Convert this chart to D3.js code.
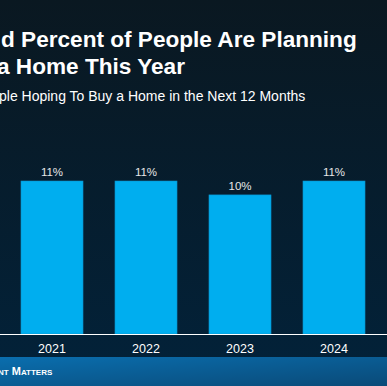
<!DOCTYPE html>
<html>
<head>
<meta charset="utf-8">
<script src="https://cdn.jsdelivr.net/npm/d3@7"></script>
<style>
  html, body { margin: 0; padding: 0; background: #061c2b; overflow: hidden; }
  svg { display: block; font-family: "Liberation Sans", Arial, sans-serif; }
</style>
</head>
<body>
<svg id="chart" width="387" height="386"></svg>
<script>
const years = ["2021", "2022", "2023", "2024"];
const shares = [11, 11, 10, 11];
const valueLabels = ["11%", "11%", "10%", "11%"];
const titleLines = ["d Percent of People Are Planning", "a Home This Year"];
const subtitle = "ple Hoping To Buy a Home in the Next 12 Months";
const footerText = "nt Matters";

document.addEventListener("DOMContentLoaded", () => {
    const svg = d3.select("#chart");
    const W = 387, H = 386;
    const baseY = 334;

    const defs = svg.append("defs");
    const bg = defs.append("linearGradient")
        .attr("id", "bg").attr("x1", 0).attr("y1", 0).attr("x2", 0).attr("y2", 1);
    bg.append("stop").attr("offset", "0%").attr("stop-color", "#0a1821");
    bg.append("stop").attr("offset", "100%").attr("stop-color", "#02223a");

    const foot = defs.append("linearGradient")
        .attr("id", "foot").attr("x1", 0).attr("y1", 0).attr("x2", 1).attr("y2", 1);
    foot.append("stop").attr("offset", "0%").attr("stop-color", "#0a6eae");
    foot.append("stop").attr("offset", "100%").attr("stop-color", "#0a4a78");

    svg.append("rect").attr("width", W).attr("height", H).attr("fill", "url(#bg)");

    // titles (cropped on the left like the source)
    svg.selectAll(".title")
        .data(titleLines)
        .enter()
        .append("text")
        .attr("class", "title")
        .attr("x", (d, i) => i === 0 ? 1 : -3)
        .attr("y", (d, i) => 47 + i * 27)
        .attr("fill", "#ffffff")
        .attr("font-size", 22.6)
        .attr("font-weight", "bold")
        .text(d => d);

    svg.append("text")
        .attr("x", -1)
        .attr("y", 101)
        .attr("fill", "#ffffff")
        .attr("font-size", 14)
        .text(subtitle);

    const x = d3.scaleBand()
        .domain(years)
        .range([5, 381])
        .paddingInner(0.34)
        .paddingOuter(0.17);

    const y = d3.scaleLinear()
        .domain([0, 11])
        .range([baseY, 181]);

    const data = years.map((yr, i) => ({ year: yr, value: shares[i], label: valueLabels[i] }));

    svg.selectAll(".bar")
        .data(data)
        .enter()
        .append("rect")
        .attr("class", "bar")
        .attr("x", d => x(d.year))
        .attr("y", d => y(d.value))
        .attr("width", x.bandwidth())
        .attr("height", d => baseY - y(d.value))
        .attr("fill", "#00aeef")
        .attr("stroke", "#0a8fc8")
        .attr("stroke-width", 0.6);

    svg.selectAll(".val")
        .data(data)
        .enter()
        .append("text")
        .attr("class", "val")
        .attr("x", d => x(d.year) + x.bandwidth() / 2)
        .attr("y", d => y(d.value) - 5)
        .attr("text-anchor", "middle")
        .attr("fill", "#e6e6e6")
        .attr("font-size", 11.5)
        .text(d => d.label);

    const axis = svg.append("g")
        .attr("transform", `translate(0,${baseY})`)
        .call(d3.axisBottom(x).tickSize(0).tickPadding(10));
    axis.select(".domain").remove();
    axis.selectAll("text")
        .attr("fill", "#ffffff")
        .attr("font-size", 12.5)
        .attr("font-family", "Liberation Sans, Arial, sans-serif");

    svg.append("line")
        .attr("x1", 0).attr("x2", W)
        .attr("y1", baseY + 0.5).attr("y2", baseY + 0.5)
        .attr("stroke", "#ffffff")
        .attr("stroke-width", 1);

    svg.append("rect")
        .attr("x", 0).attr("y", 357)
        .attr("width", W).attr("height", H - 357)
        .attr("fill", "url(#foot)");

    svg.append("text")
        .attr("x", -2)
        .attr("y", 375)
        .attr("fill", "#ffffff")
        .attr("font-size", 11)
        .attr("font-weight", "bold")
        .style("font-variant", "small-caps")
        .text(footerText);
});
</script>
</body>
</html>
